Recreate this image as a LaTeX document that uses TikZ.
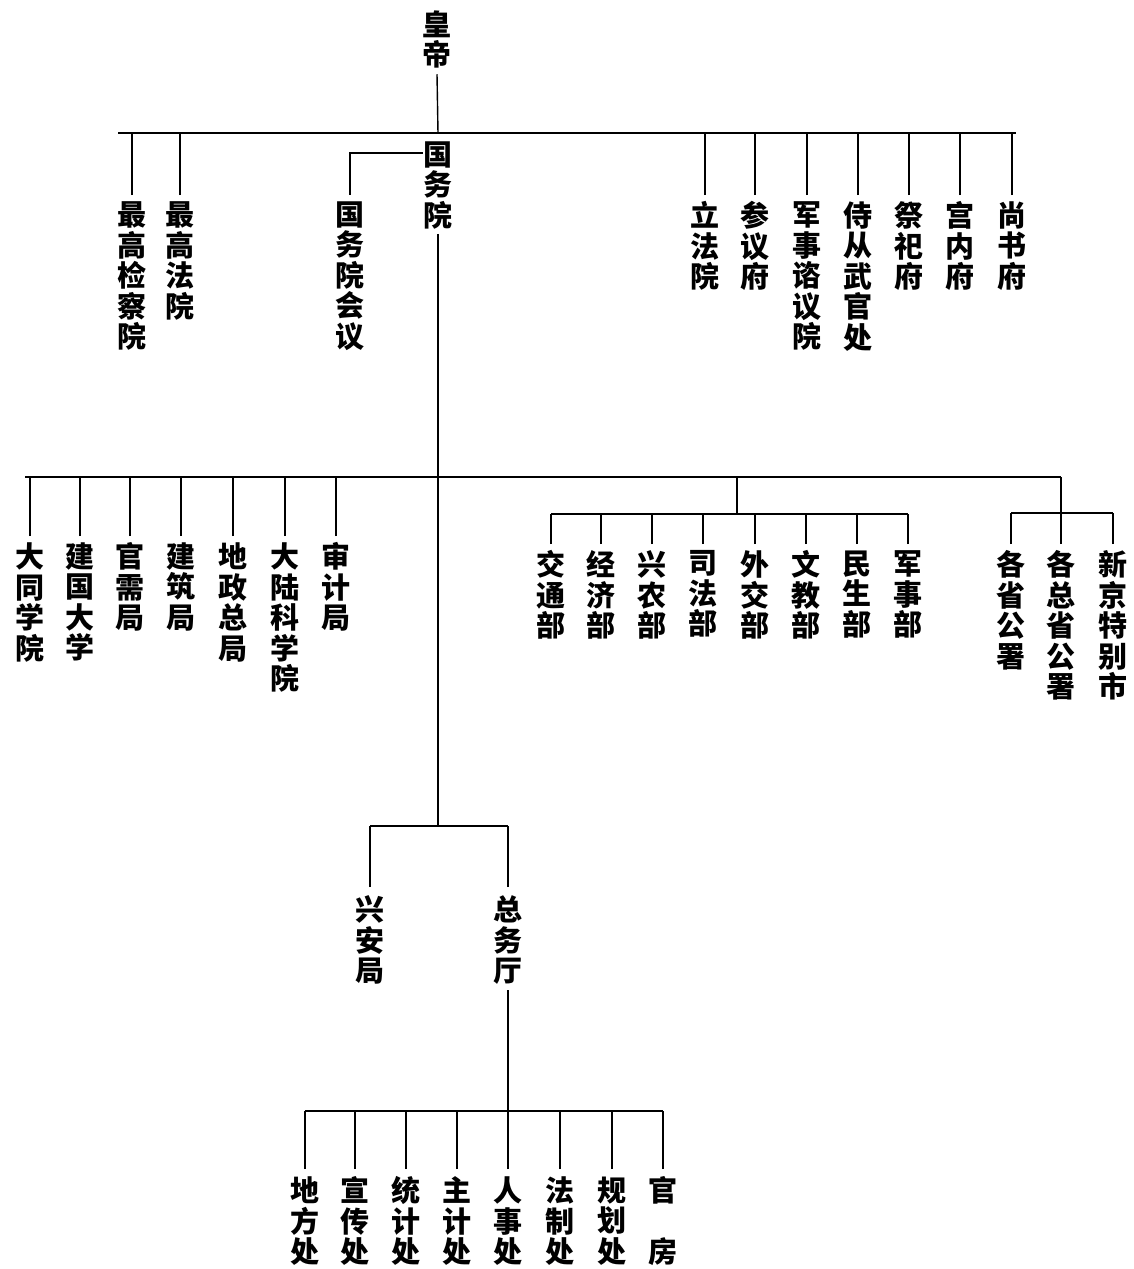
\documentclass[tikz,border=0pt]{standalone}
\usepackage{fontspec}
\newfontfamily\cjk{Noto Sans CJK SC}
\begin{document}
\begin{tikzpicture}[x=1pt,y=-1pt,line width=1.4pt,
  lbl/.style={font=\cjk\bfseries\fontsize{29}{30.5}\selectfont,align=center,inner sep=0pt,anchor=north},
  drop/.style={line width=1.4pt}]
\useasboundingbox[fill=white] (0,0) rectangle (1134,1269);

% ---------- top ----------
\node[lbl] (emp) at (437,10) {皇\\帝};
\node[lbl] (gwy) at (438,141) {国\\务\\院};
\coordinate (tbL) at (118,133);
\coordinate (tbR) at (1016,133);
\coordinate (tbM) at (438,133);
\draw ([yshift=-5pt]emp.south) -- (tbM);
\draw (tbL) -- (tbR);

\node[lbl] (zgjcy) at (132,201) {最\\高\\检\\察\\院};
\node[lbl] (zgfy)  at (180,201) {最\\高\\法\\院};
\node[lbl] (gwyhy) at (350,201) {国\\务\\院\\会\\议};
\node[lbl] (lfy)   at (705,201) {立\\法\\院};
\node[lbl] (cyf)   at (755,201) {参\\议\\府};
\node[lbl] (jszyy) at (807,201) {军\\事\\谘\\议\\院};
\node[lbl] (scwg)  at (858,201) {侍\\从\\武\\官\\处};
\node[lbl] (jsf)   at (909,201) {祭\\祀\\府};
\node[lbl] (gnf)   at (960,201) {宫\\内\\府};
\node[lbl] (ssf)   at (1012,201) {尚\\书\\府};

\foreach \n in {zgjcy,zgfy,lfy,cyf,jszyy,scwg,jsf,gnf,ssf}
  \draw[drop] ([yshift=6pt]\n.north) -- (\n.north |- tbL);

\coordinate (gj) at (350,153);
\draw (gwy.west |- gj) -- (gj) -- ([yshift=6pt]gwyhy.north);

% ---------- second level ----------
\coordinate (sbL) at (25,477);
\coordinate (sbR) at (1061,477);
\coordinate (t3) at (438,826);
\draw ([yshift=-4pt]gwy.south) -- (t3);
\draw (sbL) -- (sbR);

\node[lbl] (dtxy)  at (30,542)  {大\\同\\学\\院};
\node[lbl] (jgdx)  at (80,542)  {建\\国\\大\\学};
\node[lbl] (gxj)   at (130,542) {官\\需\\局};
\node[lbl] (jzj)   at (181,542) {建\\筑\\局};
\node[lbl] (dzzj)  at (233,542) {地\\政\\总\\局};
\node[lbl] (dlkxy) at (285,542) {大\\陆\\科\\学\\院};
\node[lbl] (sjj)   at (336,542) {审\\计\\局};
\foreach \n in {dtxy,jgdx,gxj,jzj,dzzj,dlkxy,sjj}
  \draw[drop] ([yshift=6pt]\n.north) -- (\n.north |- sbL);

% ministries
\coordinate (mj) at (737,477);
\coordinate (mb) at (737,514);
\draw (mj) -- (mb);
\node[lbl] (jtb) at (551,550) {交\\通\\部};
\node[lbl] (jjb) at (601,550) {经\\济\\部};
\node[lbl] (xnb) at (652,550) {兴\\农\\部};
\node[lbl] (sfb) at (703,550) {司\\法\\部};
\node[lbl] (wjb) at (755,550) {外\\交\\部};
\node[lbl] (wjb2) at (806,550) {文\\教\\部};
\node[lbl] (msb) at (857,550) {民\\生\\部};
\node[lbl] (jsb) at (908,550) {军\\事\\部};
\draw (jtb.north |- mb) -- (jsb.north |- mb);
\foreach \n in {jtb,jjb,xnb,sfb,wjb,wjb2,msb,jsb}
  \draw[drop] ([yshift=6pt]\n.north) -- (\n.north |- mb);

% provinces
\coordinate (pb) at (1061,513);
\draw (sbR) -- (pb);
\node[lbl] (gsgs)  at (1011,550) {各\\省\\公\\署};
\node[lbl] (gzsgs) at (1061,550) {各\\总\\省\\公\\署};
\node[lbl] (xjtbs) at (1113,550) {新\\京\\特\\别\\市};
\draw (gsgs.north |- pb) -- (xjtbs.north |- pb);
\foreach \n in {gsgs,gzsgs,xjtbs}
  \draw[drop] ([yshift=6pt]\n.north) -- (\n.north |- pb);

% ---------- third level ----------
\node[lbl] (xaj) at (370,895) {兴\\安\\局};
\node[lbl] (zwt) at (508,895) {总\\务\\厅};
\draw (xaj.north |- t3) -- (zwt.north |- t3);
\foreach \n in {xaj,zwt}
  \draw[drop] ([yshift=8pt]\n.north) -- (\n.north |- t3);

% ---------- fourth level ----------
\coordinate (bb) at (508,1111);
\draw ([yshift=-5pt]zwt.south) -- (bb);
\node[lbl] (dfc) at (305,1176) {地\\方\\处};
\node[lbl] (xcc) at (355,1176) {宣\\传\\处};
\node[lbl] (tjc) at (406,1176) {统\\计\\处};
\node[lbl] (zjc) at (457,1176) {主\\计\\处};
\node[lbl] (rsc) at (508,1176) {人\\事\\处};
\node[lbl] (fzc) at (560,1176) {法\\制\\处};
\node[lbl] (ghc) at (612,1176) {规\\划\\处};
\node[lbl] (gf)  at (663,1176) {官\\[30.5pt]房};
\draw (dfc.north |- bb) -- (gf.north |- bb);
\foreach \n in {dfc,xcc,tjc,zjc,rsc,fzc,ghc,gf}
  \draw[drop] ([yshift=7pt]\n.north) -- (\n.north |- bb);
\end{tikzpicture}
\end{document}
